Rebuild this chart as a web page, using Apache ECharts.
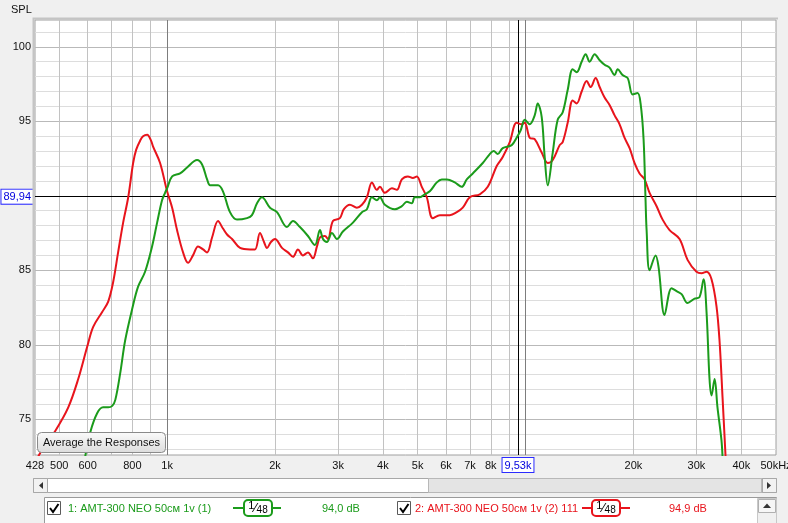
<!DOCTYPE html>
<html><head><meta charset="utf-8">
<script src="https://cdn.jsdelivr.net/npm/echarts@6/dist/echarts.min.js"></script>
<style>html,body{margin:0;padding:0;background:#f0f0f0;}#c{width:788px;height:523px;}</style>
</head><body><div id="c"></div>
<script>
// ---- data (Hz, dB SPL) ----
const redFreq = [437,457,487,530,565,599,622,659,685,707,730,754,779,804,820,841,857,880,902,914,956,1000,1033,1066,1108,1144,1181,1220,1260,1293,1335,1387,1432,1470,1518,1598,1704,1759,1816,1864,1900,1949,2000,2092,2174,2245,2318,2394,2472,2552,2619,2670,2757,2810,2902,3034,3114,3236,3385,3497,3610,3728,3849,3924,4052,4238,4377,4518,4696,4849,4975,5137,5304,5513,5768,5955,6149,6432,6683,6993,7457,7847,8312,8640,9040,9446,9760,9951,10273,10609,11096,11536,11913,12456,12699,13113,13543,13896,14346,14814,15200,15693,16103,16623,17161,17728,18305,18892,19520,20159,20810,21494,22195,23217,24131,25235,26909,28325,30000,30993,32000,33040,34110,34780,35460,36160];
const redSpl = [72.5,73.3,74.2,75.8,77.7,79.9,81.2,82.2,82.9,84.2,86.2,88.2,89.9,92.2,93.1,93.7,94.0,94.1,93.7,93.3,92.2,90.3,89.2,87.7,86.2,85.5,86.0,86.6,86.4,86.2,87.2,88.3,87.8,87.4,87.1,86.5,86.4,86.4,87.5,86.9,86.5,86.9,87.1,86.5,86.2,85.9,86.4,86.0,86.2,85.8,86.6,87.2,87.3,87.1,88.3,88.5,89.1,89.4,89.2,89.4,89.9,90.9,90.4,90.6,90.2,90.5,90.4,91.1,91.3,91.2,91.3,90.6,89.9,88.5,88.7,88.7,88.7,88.9,89.2,89.9,90.1,90.6,92.0,92.6,93.6,94.9,94.8,94.9,93.9,93.8,92.9,92.2,92.4,93.4,93.6,94.9,96.4,96.2,97.0,97.7,97.3,97.9,97.3,96.6,96.1,95.4,94.8,93.9,93.2,92.2,91.5,91.1,90.2,89.3,88.4,87.7,87.1,85.7,84.9,84.8,84.9,84.4,82.6,80.3,76.5,72.5];
const greenFreq = [591,610,638,663,685,703,717,740,764,799,830,868,908,938,968,987,1000,1033,1087,1137,1212,1252,1293,1318,1361,1387,1432,1498,1567,1671,1725,1782,1840,1937,2026,2160,2245,2348,2472,2585,2670,2722,2792,2883,2977,3094,3300,3497,3610,3728,3849,3924,4052,4321,4518,4665,4818,4911,5072,5236,5408,5657,5841,6033,6350,6640,6857,7127,7600,7950,8155,8366,8640,9153,9446,9697,9951,10273,10609,10816,11096,11314,11536,11913,12298,12699,13113,13543,13896,14346,14720,15103,15593,16103,16623,17161,17728,18080,18659,19283,19901,20546,20946,21354,21628,21773,22195,23072,23520,24435,25563,26400,27259,28325,29630,30592,31395,32000,32620,33040,33700,34330,35220,35460];
const greenSpl = [72.5,74.1,75.4,75.8,75.8,75.9,76.3,78.1,80.3,82.4,83.9,84.9,86.6,88.2,89.7,90.2,90.5,91.3,91.5,91.9,92.4,92.1,91.1,90.7,90.7,90.7,90.3,88.9,88.4,88.5,88.7,89.5,89.9,89.2,88.9,87.9,88.3,87.9,87.3,86.7,87.7,87.1,86.9,87.5,87.1,87.6,88.2,88.9,89.1,89.9,89.7,89.9,89.4,89.1,89.3,89.6,89.5,89.9,89.9,90.1,90.3,90.9,91.1,91.1,90.9,90.6,91.1,91.5,92.2,92.8,93.0,92.8,93.2,93.4,93.9,94.4,95.1,94.8,95.4,96.2,95.3,92.6,90.7,92.9,95.1,95.6,97.1,98.5,98.3,99.0,99.5,99.0,99.5,99.1,98.8,98.6,98.1,98.5,98.1,97.9,96.8,96.9,96.2,93.8,89.7,87.7,85.0,86.0,85.2,82.0,83.8,83.6,83.4,82.8,83.1,83.2,84.4,82.2,77.7,76.6,77.7,75.8,73.6,72.5];
// ---- axes / ticks ----
const xMin = 428, xMax = 50000, yMin = 72.6, yMax = 101.8;
const xTickValues = [428,500,600,800,1000,2000,3000,4000,5000,6000,7000,8000,20000,30000,40000,50000];
const xTickText = ['428','500','600','800','1k','2k','3k','4k','5k','6k','7k','8k','20k','30k','40k','50kHz'];
const xGridValues = [500,600,700,800,900,1000,2000,3000,4000,5000,6000,7000,8000,9000,10000,20000,30000,40000];
const yTickValues = [75,80,85,95,100];
const yTickText = ['75','80','85','95','100'];
const cursorFreq = 9530, cursorFreqText = '9,53k';
const cursorSpl = 89.94, cursorSplText = '89,94';
const legendNames = ['1: AMT-300 NEO 50см 1v (1)', '2: AMT-300 NEO 50см 1v (2) 111'];
const legendLevels = ['94,0 dB', '94,9 dB'];

const RED = '#e8141c', GREEN = '#1b9b1b';
const FONT = '"Liberation Sans", Arial, sans-serif';

const pairs = (f, s) => f.map((v, i) => [v, s[i]]);

const hLines = [];
for (let v = 73; v <= 101; v++) {
  const idx = yTickValues.indexOf(v);
  hLines.push({
    yAxis: v,
    lineStyle: { color: v % 5 === 0 ? '#b9b9b9' : '#dddddd' },
    label: idx >= 0 ? { show: true, position: 'start', formatter: yTickText[idx], distance: 4, color: '#111', fontSize: 11, fontFamily: FONT } : { show: false }
  });
}
const vLines = xGridValues.map(v => ({
  xAxis: v,
  lineStyle: { color: (v === 1000 || v === 10000) ? '#7d7d7d' : '#c2c2c2' }
}));
const xLabels = xTickValues.map((v, i) => ({
  xAxis: v,
  lineStyle: { color: 'rgba(0,0,0,0)', width: 0 },
  label: { show: true, position: 'start', formatter: xTickText[i], distance: 5, color: '#111', fontSize: 11, fontFamily: FONT }
}));
const cursorLabel = { show: true, position: 'start', color: '#0000dd', backgroundColor: '#fff', borderColor: '#2b2bff', borderWidth: 1, padding: [2, 2, 1, 2], fontSize: 11, fontFamily: FONT };

const mlBase = { silent: true, symbol: ['none', 'none'], animation: false, z: 1, lineStyle: { type: 'solid', width: 1 }, label: { show: false } };
const dummy = (name, data) => ({ type: 'line', name, data: [], silent: true, markLine: Object.assign({}, mlBase, { data }) });

function txt(x, y, text, fill, extra) {
  return Object.assign({ type: 'text', x, y, silent: true, z: 100,
    style: Object.assign({ text, fill, fontSize: 11, fontFamily: FONT, align: 'left', verticalAlign: 'middle', textAlign: 'left', textVerticalAlign: 'middle' }, extra || {}) });
}
function rect(x, y, w, h, fill, stroke, r, lw) {
  return { type: 'rect', silent: true, z: 100, shape: { x, y, width: w, height: h, r: r || 0 }, style: { fill, stroke, lineWidth: lw || 1 } };
}
function fraction(cx, cy, color) {
  return [
    rect(cx - 14, cy - 8, 28, 16, '#fff', color, 4, 2),
    { type: 'text', x: cx, y: cy, silent: true, z: 101, style: { text: '{a|1}{b|⁄}{c|48}', fill: '#000', align: 'center', verticalAlign: 'middle', textAlign: 'center', textVerticalAlign: 'middle',
      rich: { a: { fontSize: 11, fontFamily: FONT, verticalAlign: 'top', padding: [0, 0, 4, 0] }, b: { fontSize: 13, fontFamily: FONT }, c: { fontSize: 10, fontFamily: FONT, padding: [4, 0, 0, 0] } } } }
  ];
}
function checkbox(x, y) {
  return [
    rect(x + 0.5, y + 0.5, 13, 13, '#fff', '#5a5a5a'),
    { type: 'polyline', silent: true, z: 101, shape: { points: [[x + 3, y + 7], [x + 6, y + 11], [x + 11.5, y + 3]] }, style: { stroke: '#000', lineWidth: 2, fill: null } }
  ];
}

const graphics = [
  txt(11, 10, 'SPL', '#111'),
  // button
  { type: 'rect', silent: true, z: 100, shape: { x: 37.5, y: 432.5, width: 128, height: 20, r: 4 },
    style: { fill: { type: 'linear', x: 0, y: 0, x2: 0, y2: 1, colorStops: [{ offset: 0, color: '#fbfbfb' }, { offset: 1, color: '#dcdcdc' }] }, stroke: '#8a8a8a', lineWidth: 1 } },
  txt(101.5, 443, 'Average the Responses', '#111', { align: 'center', textAlign: 'center' }),
  // horizontal scrollbar
  rect(33.5, 478.5, 743, 14, '#ffffff', '#a8a8a8'),
  rect(428.5, 478.5, 333, 14, '#e4e4e4', '#b8b8b8'),
  rect(33.5, 478.5, 14, 14, '#f2f2f2', '#a8a8a8'),
  { type: 'polygon', silent: true, z: 101, shape: { points: [[43, 482], [43, 489], [39, 485.5]] }, style: { fill: '#333' } },
  rect(762.5, 478.5, 14, 14, '#f2f2f2', '#a8a8a8'),
  { type: 'polygon', silent: true, z: 101, shape: { points: [[767, 482], [767, 489], [771, 485.5]] }, style: { fill: '#333' } },
  // legend panel
  rect(44.5, 497.5, 732, 30, '#ffffff', '#9a9a9a'),
  rect(757.5, 498.5, 19, 28, '#f0f0f0', '#c8c8c8'),
  rect(758.5, 499.5, 17, 13, '#f6f6f6', '#b0b0b0'),
  { type: 'polygon', silent: true, z: 101, shape: { points: [[763, 508], [771, 508], [767, 503.5]] }, style: { fill: '#333' } },
  ...checkbox(47, 501),
  txt(68, 508.5, legendNames[0], GREEN),
  { type: 'line', silent: true, z: 100, shape: { x1: 233, y1: 508, x2: 281, y2: 508 }, style: { stroke: GREEN, lineWidth: 2 } },
  ...fraction(258, 508, GREEN),
  txt(322, 508.5, legendLevels[0], GREEN),
  ...checkbox(397, 501),
  txt(415, 508.5, legendNames[1], RED),
  { type: 'line', silent: true, z: 100, shape: { x1: 582, y1: 508, x2: 630, y2: 508 }, style: { stroke: RED, lineWidth: 2 } },
  ...fraction(606, 508, RED),
  txt(669, 508.5, legendLevels[1], RED),
  // plot frame shading (left/top inset)
  { type: 'polyline', silent: true, z: 50, shape: { points: [[33.5, 456], [33.5, 18.5], [778, 18.5]] }, style: { stroke: '#c4c4c4', lineWidth: 2, fill: null } }
];

const chart = echarts.init(document.getElementById('c'));
chart.setOption({
  backgroundColor: '#f0f0f0',
  animation: false,
  textStyle: { fontFamily: FONT },
  grid: { left: 35, right: 12, top: 20, bottom: 68, show: true, backgroundColor: '#ffffff', borderColor: '#a0a0a0', borderWidth: 1 },
  xAxis: { type: 'log', logBase: 10, min: xMin, max: xMax, axisLine: { show: false }, axisTick: { show: false }, axisLabel: { show: false }, splitLine: { show: false } },
  yAxis: { type: 'value', min: yMin, max: yMax, axisLine: { show: false }, axisTick: { show: false }, axisLabel: { show: false }, splitLine: { show: false } },
  series: [
    dummy('hgrid', hLines),
    dummy('vgrid', vLines),
    dummy('xlabels', xLabels),
    dummy('cursor', [
      { xAxis: cursorFreq, lineStyle: { color: '#000' }, label: Object.assign({}, cursorLabel, { formatter: cursorFreqText, distance: 3 }) },
      { yAxis: cursorSpl, lineStyle: { color: '#000' }, label: Object.assign({}, cursorLabel, { formatter: cursorSplText, distance: 2 }) }
    ]),
    { type: 'line', name: 'red', z: 5, data: pairs(redFreq, redSpl), showSymbol: false, symbol: 'none', smooth: 0.35, clip: true, lineStyle: { color: RED, width: 2 }, itemStyle: { color: RED } },
    { type: 'line', name: 'green', z: 6, data: pairs(greenFreq, greenSpl), showSymbol: false, symbol: 'none', smooth: 0.35, clip: true, lineStyle: { color: GREEN, width: 2 }, itemStyle: { color: GREEN } }
  ],
  graphic: graphics
});
</script>
</body></html>
